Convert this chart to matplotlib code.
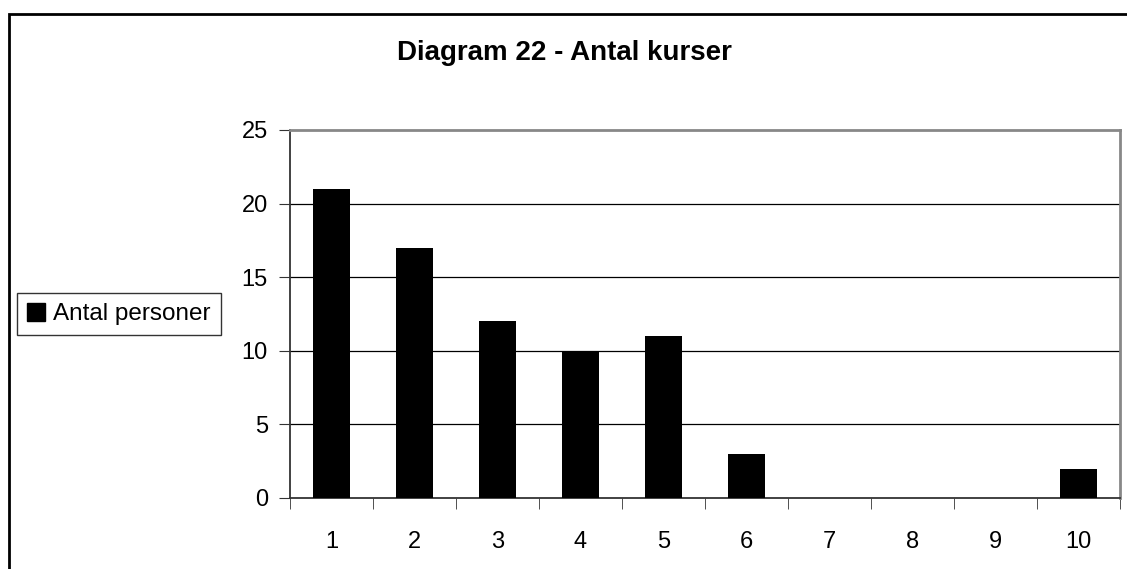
import matplotlib.pyplot as plt
from matplotlib.patches import Rectangle, Patch

categories = ["1", "2", "3", "4", "5", "6", "7", "8", "9", "10"]
antal_personer = [21, 17, 12, 10, 11, 3, 0, 0, 0, 2]
y_ticks = [0, 5, 10, 15, 20, 25]

plt.rcParams["font.family"] = ["Liberation Sans", "DejaVu Sans"]

fig = plt.figure(figsize=(11.27, 5.69), dpi=100)
ax = fig.add_axes([290 / 1127, 1 - 498 / 569, 830 / 1127, 368 / 569])

# outer chart frame (bottom edge falls outside the picture)
fig.patches.append(Rectangle((9 / 1127, -0.1), 1.2, 1 - 14 / 569 + 0.1,
                             transform=fig.transFigure, fill=False,
                             edgecolor="black", linewidth=2, zorder=0))

x = list(range(len(categories)))
ax.bar(x, antal_personer, width=0.44, color="black", zorder=3)

ax.set_xlim(-0.5, len(categories) - 0.5)
ax.set_ylim(0, 25)
ax.set_yticks(y_ticks)
ax.set_yticklabels([str(t) for t in y_ticks], fontsize=17)
ax.set_xticks(x)
ax.set_xticklabels(categories, fontsize=17)
ax.set_xticks([i - 0.5 for i in range(len(categories) + 1)], minor=True)
ax.tick_params(axis="x", which="major", length=0, pad=24)
ax.tick_params(axis="x", which="minor", length=8, direction="out", color="#333333")
ax.tick_params(axis="y", length=8, direction="out", color="#333333", pad=8)

for t in y_ticks[1:-1]:
    ax.axhline(t, color="black", linewidth=0.9, zorder=1)

for side in ["top", "right"]:
    ax.spines[side].set_color("#888888")
    ax.spines[side].set_linewidth(2)
for side in ["left", "bottom"]:
    ax.spines[side].set_color("#333333")
    ax.spines[side].set_linewidth(1.3)

fig.text(564 / 1127, 1 - 53 / 569, "Diagram 22 - Antal kurser", ha="center",
         va="center", fontsize=20, fontweight="bold")

handle = Patch(facecolor="black", edgecolor="black")
leg = fig.legend([handle], ["Antal personer"], loc="center left",
                 bbox_to_anchor=(17 / 1127, 1 - 314 / 569), fontsize=17.5,
                 frameon=True, fancybox=False, handlelength=0.75,
                 handleheight=0.75, handletextpad=0.35, borderpad=0.4,
                 borderaxespad=0)
leg.get_frame().set_edgecolor("black")
leg.get_frame().set_linewidth(1)

fig.savefig("out.png", dpi=100)
